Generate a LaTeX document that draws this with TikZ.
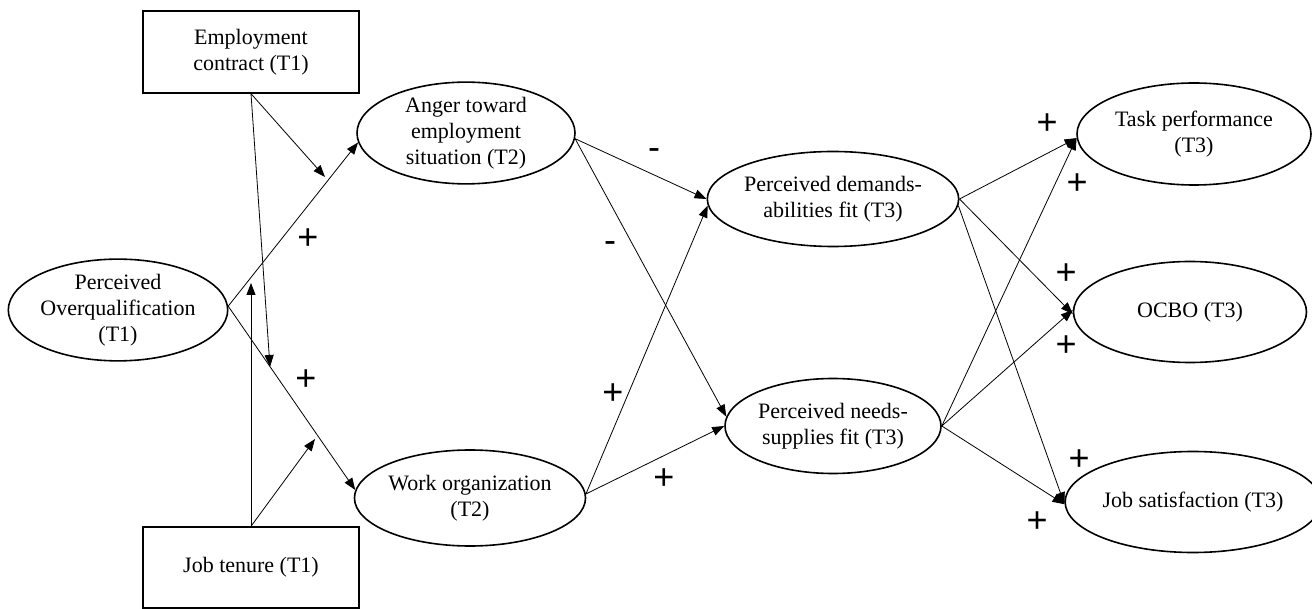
\documentclass[tikz,border=0pt]{standalone}
\usepackage{fontspec}
\setmainfont{Liberation Serif}
\newfontfamily\signfont{Liberation Sans}
\usetikzlibrary{shapes.geometric,arrows.meta}
\begin{document}
\begin{tikzpicture}[x=1pt,y=-1pt,
  lat/.style={ellipse, draw, line width=1.6pt, inner sep=0pt, align=center,
    font=\fontsize{22}{26}\selectfont},
  obs/.style={rectangle, draw, line width=1.4pt, inner sep=0pt, align=center,
    font=\fontsize{22}{26}\selectfont},
  arr/.style={-{Triangle[length=12pt,width=9pt]}, line width=0.8pt},
  sign/.style={font=\signfont\fontsize{36}{36}\selectfont, inner sep=0pt,
    text height=20pt, text depth=0pt}]
\useasboundingbox (0,0) rectangle (1312,609);

% nodes
\node[obs, minimum width=216pt, minimum height=82pt] (emp) at (251,52) {Employment\\contract (T1)};
\node[obs, minimum width=216pt, minimum height=81pt] (jt) at (251,567.5) {Job tenure (T1)};
\node[lat, minimum width=217pt, minimum height=95pt] (overq) at (118,310) {Perceived\\Overqualification\\(T1)};
\node[lat, minimum width=218pt, minimum height=96pt] (anger) at (466,133) {Anger toward\\employment\\situation (T2)};
\node[lat, minimum width=217pt, minimum height=96pt] (work) at (470,498) {Work organization\\(T2)};
\node[lat, minimum width=216pt, minimum height=95pt] (pda) at (833,199) {Perceived demands-\\abilities fit (T3)};
\node[lat, minimum width=216pt, minimum height=95pt] (pns) at (833,426) {Perceived needs-\\supplies fit (T3)};
\node[lat, minimum width=234pt, minimum height=102pt] (task) at (1194,134) {Task performance\\(T3)};
\node[lat, minimum width=233pt, minimum height=101pt] (ocbo) at (1190,312) {OCBO (T3)};
\node[lat, minimum width=234pt, minimum height=101pt] (js) at (1193,502) {Job satisfaction (T3)};

% moderator targets
\coordinate (m1) at (325,177);
\coordinate (m2) at (270,367);
\coordinate (m3) at (251,283);
\coordinate (m4) at (315,439);

% connectors
\draw[arr] (overq.2) -- (anger.185);
\draw[arr] (overq.2) -- (work.176);
\draw[arr] (emp.south) -- (m1);
\draw[arr] (emp.south) -- (m2);
\draw[arr] (jt.north) -- (m3);
\draw[arr] (jt.north) -- (m4);
\draw[arr] (anger.357) -- (pda.180);
\draw[arr] (anger.357) -- (pns.175);
\draw[arr] (work.2) -- (pda.183);
\draw[arr] (work.2) -- (pns.180);
\draw[arr] (pda.0) -- (task.182);
\draw[arr] (pda.0) -- (ocbo.181);
\draw[arr] (pda.357) -- (js.181);
\draw[arr] (pns.0) -- (task.182);
\draw[arr] (pns.0) -- (ocbo.179);
\draw[arr] (pns.0) -- (js.181);

% signs
\node[sign] (s1) at (308,240) {+};
\node[sign] (s2) at (306,381) {+};
\node[sign] (s3) at (654,150) {-};
\node[sign] (s4) at (610,243) {-};
\node[sign] (s5) at (613,395) {+};
\node[sign] (s6) at (664,479) {+};
\node[sign] (s7) at (1047,125) {+};
\node[sign] (s8) at (1077,185) {+};
\node[sign] (s9) at (1066,275) {+};
\node[sign] (s10) at (1066,347) {+};
\node[sign] (s11) at (1079,460) {+};
\node[sign] (s12) at (1037,522) {+};
\end{tikzpicture}
\end{document}
